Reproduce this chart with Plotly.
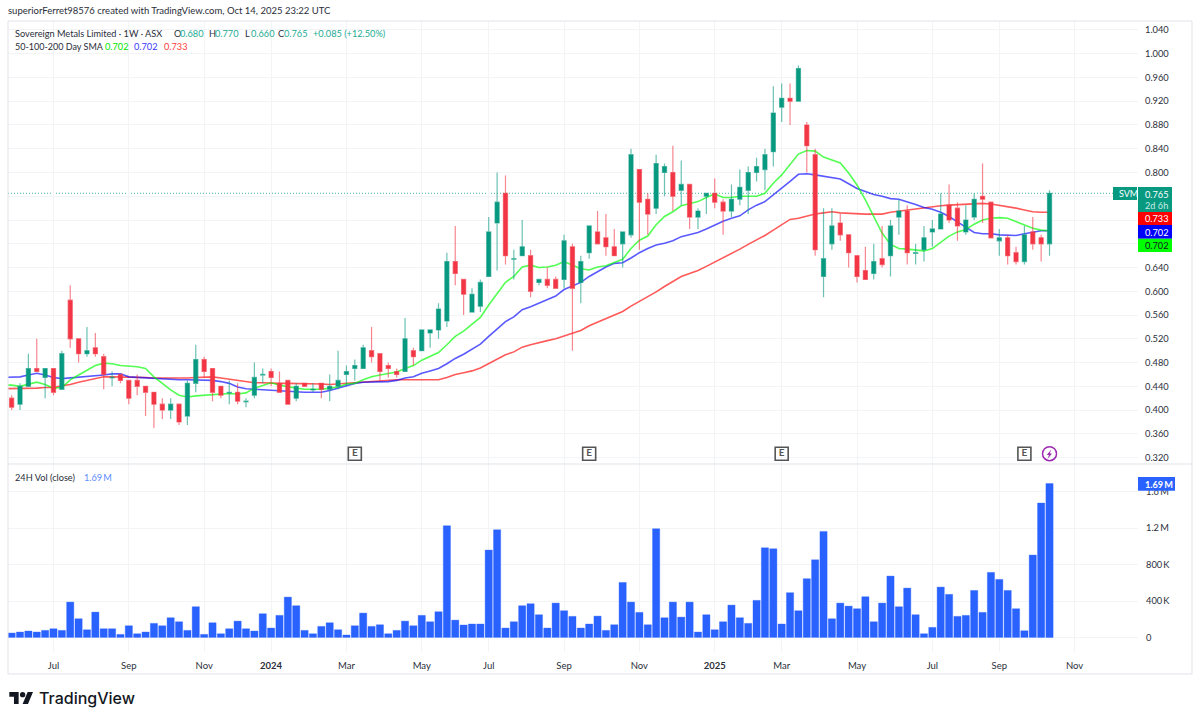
import pandas as pd
import plotly.graph_objects as go
from plotly.subplots import make_subplots

##### weekly bars, first one is the week of 29 May 2023
week_dates = pd.date_range("2023-05-29", periods=125, freq="7D")
sma_dates = pd.date_range("2023-05-22", periods=126, freq="7D")

opens = [.42, .41, .44, .47, .455, .47, .435, .585, .52, .495,
         .505, .49, .454, .46, .45, .45, .44, .43, .41, .40,
         .41, .39, .445, .485, .47, .44, .429, .43, .414, .425,
         .459, .465, .445, .45, .42, .445, .434, .445, .435, .44,
         .46, .47, .47, .50, .495, .475, .465, .465, .50, .50,
         .53, .535, .55, .65, .62, .565, .575, .625, .715, .765,
         .654, .66, .66, .615, .62, .62, .62, .675, .615, .665,
         .70, .69, .675, .68, .695, .805, .755, .74, .80, .80,
         .77, .78, .725, .76, .765, .75, .735, .755, .77, .80,
         .805, .835, .91, .925, .92, .88, .83, .625, .68, .715,
         .695, .66, .635, .63, .655, .66, .725, .735, .664, .67,
         .70, .705, .745, .74, .70, .725, .76, .75, .685, .69,
         .665, .65, .70, .69, .68]
highs = [.425, .445, .495, .52, .47, .47, .50, .61, .52, .54,
         .53, .495, .465, .46, .45, .46, .44, .43, .42, .42,
         .41, .45, .51, .49, .47, .44, .45, .445, .42, .48,
         .47, .47, .465, .45, .445, .445, .445, .445, .46, .50,
         .475, .485, .51, .54, .495, .48, .47, .555, .505, .535,
         .535, .58, .665, .71, .62, .605, .62, .725, .80, .795,
         .67, .72, .67, .62, .64, .625, .695, .68, .66, .71,
         .735, .73, .705, .70, .84, .805, .765, .83, .815, .845,
         .82, .78, .74, .765, .79, .755, .78, .805, .81, .825,
         .84, .945, .95, .95, .98, .885, .84, .74, .74, .73,
         .695, .66, .675, .68, .71, .72, .755, .745, .68, .71,
         .72, .765, .78, .75, .745, .765, .815, .75, .705, .695,
         .675, .71, .725, .695, .77]
lows = [.40, .40, .44, .465, .42, .425, .435, .505, .48, .49,
        .49, .435, .44, .445, .41, .425, .39, .37, .385, .385,
        .375, .375, .43, .455, .415, .42, .41, .41, .405, .42,
        .445, .44, .43, .41, .415, .44, .43, .42, .415, .435,
        .44, .45, .47, .48, .45, .455, .455, .465, .475, .50,
        .505, .52, .54, .61, .56, .565, .565, .625, .635, .645,
        .62, .66, .59, .61, .605, .605, .605, .50, .58, .655,
        .68, .66, .66, .64, .69, .67, .695, .73, .76, .735,
        .745, .705, .705, .73, .74, .695, .725, .745, .73, .785,
        .77, .81, .885, .88, .92, .80, .66, .59, .67, .685,
        .64, .615, .62, .62, .64, .625, .695, .645, .645, .65,
        .675, .705, .715, .685, .695, .72, .715, .69, .66, .645,
        .645, .645, .67, .65, .66]
closes = [.405, .44, .47, .465, .47, .43, .495, .52, .495, .50,
          .495, .46, .455, .45, .42, .44, .43, .41, .40, .41,
          .38, .445, .485, .465, .43, .425, .43, .415, .415, .455,
          .46, .455, .43, .41, .44, .44, .435, .435, .44, .45,
          .465, .475, .505, .49, .465, .47, .46, .52, .49, .535,
          .535, .57, .65, .63, .595, .595, .615, .70, .75, .66,
          .655, .675, .60, .62, .61, .605, .685, .605, .65, .71,
          .68, .675, .66, .70, .83, .75, .73, .815, .81, .76,
          .78, .725, .735, .765, .75, .735, .755, .775, .80, .81,
          .83, .90, .925, .92, .975, .845, .67, .655, .71, .695,
          .665, .625, .62, .65, .645, .71, .735, .665, .665, .69,
          .705, .73, .72, .71, .72, .755, .755, .69, .69, .66,
          .65, .695, .68, .68, .765]
volumes = [48, 59, 70, 59, 77, 95, 77, 388, 205, 84,
           278, 95, 95, 33, 128, 40, 59, 154, 128, 216,
           172, 77, 337, 33, 161, 40, 95, 179, 95, 70,
           260, 103, 242, 443, 348, 77, 40, 121, 161, 84,
           26, 128, 267, 121, 139, 40, 77, 179, 128, 242,
           172, 282, 1227, 190, 136, 147, 147, 960, 1183, 103,
           172, 348, 370, 249, 103, 377, 293, 231, 103, 147,
           234, 77, 139, 604, 388, 275, 139, 1194, 216, 388,
           223, 388, 59, 249, 84, 172, 355, 216, 154, 407,
           985, 974, 147, 491, 293, 645, 853, 1165, 205, 377,
           344, 315, 447, 172, 377, 674, 337, 542, 249, 40,
           110, 553, 473, 231, 242, 516, 275, 714, 637, 516,
           315, 73, 905, 1476, 1690]  # thousands

sma50 = [.442, .442, .440, .444, .447, .443, .437, .438, .451, .459, .467,
         .475, .479, .478, .475, .474, .473, .470, .456, .445, .434,
         .425, .422, .424, .425, .426, .427, .428, .427, .429, .437,
         .442, .446, .442, .439, .437, .435, .435, .435, .437, .439,
         .444, .445, .451, .456, .459, .461, .464, .470, .475, .484,
         .491, .497, .510, .524, .533, .544, .556, .577, .597, .615,
         .625, .641, .644, .640, .641, .644, .650, .644, .638, .636,
         .641, .643, .649, .654, .672, .686, .693, .712, .726, .734,
         .744, .748, .751, .758, .764, .758, .758, .760, .760, .760,
         .765, .782, .796, .813, .831, .837, .836, .826, .821, .816,
         .799, .779, .754, .726, .698, .679, .672, .671, .670, .668,
         .672, .683, .693, .700, .704, .713, .720, .723, .724, .723,
         .717, .712, .706, .703, .702]
sma100 = [.455, .455, .456, .459, .462, .459, .455, .453, .454, .455, .456,
          .457, .459, .461, .461, .456, .455, .455, .453, .452, .451,
          .451, .451, .451, .450, .450, .448, .445, .439, .436, .435,
          .434, .433, .432, .431, .430, .430, .430, .430, .433, .437,
          .441, .445, .447, .447, .447, .448, .450, .454, .456, .462,
          .466, .470, .478, .487, .494, .502, .511, .524, .537, .549,
          .557, .569, .574, .580, .585, .592, .603, .609, .615, .625,
          .633, .641, .647, .648, .656, .665, .672, .678, .681, .685,
          .692, .695, .699, .705, .712, .718, .723, .727, .737, .745,
          .751, .762, .773, .785, .797, .798, .796, .794, .791, .789,
          .781, .773, .768, .763, .760, .756, .755, .751, .746, .741,
          .738, .733, .726, .717, .708, .699, .697, .697, .695, .694,
          .694, .697, .699, .702, .702]
sma200 = [.436, .436, .436, .436, .437, .438, .438, .441, .443, .447, .450,
          .453, .456, .456, .456, .456, .455, .455, .454, .454, .453,
          .453, .454, .455, .456, .456, .454, .452, .449, .447, .446,
          .446, .445, .445, .445, .445, .444, .444, .444, .443, .444,
          .445, .446, .447, .449, .450, .450, .451, .451, .451, .451,
          .451, .451, .455, .460, .463, .466, .471, .478, .486, .493,
          .498, .506, .510, .514, .517, .520, .525, .529, .534, .542,
          .548, .555, .560, .566, .575, .583, .590, .599, .608, .616,
          .625, .630, .635, .642, .649, .656, .664, .671, .679, .686,
          .694, .703, .712, .721, .723, .727, .730, .732, .734, .732,
          .731, .731, .730, .730, .730, .733, .735, .737, .739, .741,
          .743, .744, .745, .746, .747, .748, .748, .747, .745, .743,
          .740, .737, .734, .733, .733]

earnings_dates = ["2024-03-11", "2024-09-23", "2025-03-03", "2025-09-22"]
earnings_level = [.3266, .3266, .3266, .3266]
split_dates = ["2025-10-13"]
split_level = [.3266]

price_ticks = [.32, .36, .40, .44, .48, .52, .56, .60, .64, .68, .72, .76, .80, .84, .88, .92, .96, 1.0, 1.04]
vol_ticks = [0, 400, 800, 1200, 1600]
vol_labels = ["0", "400\u2009K", "800\u2009K", "1.2\u2009M", "1.6\u2009M"]
month_ticks = ["2023-07-03", "2023-09-04", "2023-11-06", "2024-01-01", "2024-03-04", "2024-05-06", "2024-07-01",
               "2024-09-02", "2024-11-04", "2025-01-06", "2025-03-03", "2025-05-05", "2025-07-07", "2025-09-01",
               "2025-11-03"]
month_labels = ["Jul", "Sep", "Nov", "<b>2024</b>", "Mar", "May", "Jul", "Sep", "Nov", "<b>2025</b>", "Mar", "May",
                "Jul", "Sep", "Nov"]

UP = '#089981'
DOWN = '#F23645'
BLUE = '#2962FF'
TEXT = '#2a2e39'
GRID = '#F3F4F6'
BORDER = '#E0E3EB'
FONT = 'Lato'
W, H = 1200, 722


def px(x):
    return x / W


def py(y):
    return 1 - y / H


fig = make_subplots(rows=2, cols=1, shared_xaxes=True, vertical_spacing=0,
                    specs=[[{"secondary_y": True}], [{}]])

##### SMA lines go on the base axis so the candles cover them
for name, values, color in [('SMA 200', sma200, 'rgba(255,0,0,0.65)'),
                            ('SMA 100', sma100, 'rgba(0,0,255,0.65)'),
                            ('SMA 50', sma50, 'rgba(0,255,0,0.68)')]:
    fig.add_trace(go.Scatter(x=sma_dates, y=values, mode='lines', name=name,
                             line=dict(color=color, width=1.6), showlegend=False),
                  row=1, col=1, secondary_y=False)

fig.add_trace(go.Scatter(x=earnings_dates, y=earnings_level, mode='markers+text', text=["<b>E</b>"] * 4,
                         textposition='middle center', textfont=dict(family=FONT, size=10, color='#555555'),
                         marker=dict(symbol='square-open', size=13, color='#555555', line=dict(width=1.6)),
                         showlegend=False), row=1, col=1, secondary_y=False)
fig.add_trace(go.Scatter(x=split_dates, y=split_level, mode='markers',
                         marker=dict(symbol='circle-open', size=14, color='#9C27B0', line=dict(width=1.5)),
                         showlegend=False), row=1, col=1, secondary_y=False)

fig.add_trace(go.Candlestick(x=week_dates, open=opens, high=highs, low=lows, close=closes,
                             increasing=dict(line=dict(color='rgba(8,153,129,0.6)', width=1.2), fillcolor=UP),
                             decreasing=dict(line=dict(color='rgba(242,54,69,0.6)', width=1.2), fillcolor=DOWN),
                             whiskerwidth=0, showlegend=False),
              row=1, col=1, secondary_y=True)

fig.add_trace(go.Bar(x=week_dates, y=volumes,
                     marker=dict(color=BLUE, line=dict(color='rgba(41,98,255,0.45)', width=0.8)),
                     showlegend=False), row=2, col=1)

##### axes, all sized in pixels of the 1200x722 page
week_px = 8.37
anchor_day = pd.Timestamp("2025-09-01")
anchor_px = 999.3
x_start = anchor_day + pd.Timedelta(weeks=(8 - anchor_px) / week_px)
x_end = anchor_day + pd.Timedelta(weeks=(1138 - anchor_px) / week_px)
price_range = [.8 - (464 - 172.5) / 594, .8 + (172.5 - 21) / 594]
vol_range = [-(652 - 637.4) / 0.091, (637.4 - 464) / 0.091]

fig.update_xaxes(range=[x_start, x_end], domain=[px(8), px(1138)], tickmode='array', tickvals=month_ticks,
                 ticktext=month_labels, showgrid=True, gridcolor=GRID, gridwidth=1, zeroline=False,
                 showline=False, ticks='', tickfont=dict(family=FONT, size=9.5, color=TEXT),
                 ticklabelstandoff=6, rangeslider=dict(visible=False))
fig.update_yaxes(domain=[py(464), py(21)], range=price_range, side='right', tickmode='array', tickvals=price_ticks,
                 tickformat='.3f', showgrid=True, gridcolor=GRID, zeroline=False, showline=False, ticks='',
                 tickfont=dict(family=FONT, size=9.3, color=TEXT), ticklabelstandoff=6,
                 row=1, col=1, secondary_y=False)
fig.update_yaxes(range=price_range, showgrid=False, showticklabels=False, zeroline=False, showline=False,
                 row=1, col=1, secondary_y=True)
fig.update_yaxes(domain=[py(652), py(464)], range=vol_range, side='right', tickmode='array', tickvals=vol_ticks,
                 ticktext=vol_labels, showgrid=True, gridcolor=GRID, zeroline=False, showline=False, ticks='',
                 tickfont=dict(family=FONT, size=9.3, color=TEXT), ticklabelstandoff=7,
                 row=2, col=1)


def label(text, x, y, color=TEXT, size=9.2, weight='normal', family=FONT):
    fig.add_annotation(text=text, xref='paper', yref='paper', x=px(x), y=py(y),
                       xanchor='left', yanchor='middle', showarrow=False, borderpad=0,
                       font=dict(family=family, size=size, color=color, weight=weight))


def box(x0, y0, x1, y1, fill):
    fig.add_shape(type='rect', xref='paper', yref='paper', x0=px(x0), x1=px(x1), y0=py(y0), y1=py(y1),
                  fillcolor=fill, line=dict(width=0))


##### last price line
fig.add_shape(type='line', xref='x domain', yref='y', x0=0, x1=1, y0=closes[-1], y1=closes[-1], layer='below',
              line=dict(color='rgba(8,153,129,0.75)', width=1, dash='1px,2px'))

##### frame around the chart and the divider between the panes
fig.add_shape(type='rect', xref='paper', yref='paper', x0=px(8), x1=px(1192), y0=py(21), y1=py(674),
              line=dict(color=BORDER, width=1))
fig.add_shape(type='line', xref='paper', yref='paper', x0=px(8), x1=px(1192), y0=py(464), y1=py(464),
              line=dict(color=BORDER, width=1))

##### header texts
label("superiorFerret98576 created with TradingView.com, Oct 14, 2025 23:22 UTC", 7, 11, size=9.5)
label("Sovereign Metals Limited \u00b7 1W \u00b7 ASX", 14, 33)
for text, x in [("O", 172.7), ("H", 207.7), ("L", 243.5), ("C", 277)]:
    label(text, x, 33)
for text, x in [("0.680", 178.5), ("0.770", 214), ("0.660", 249.5), ("0.765", 283), ("+0.085 (+12.50%)", 311.7)]:
    label(text, x, 33, color='#22ab94')
label("50-100-200 Day SMA", 14, 46, size=9)
label("0.702", 104, 46, color='#00e600')
label("0.702", 133, 46, color='#3a3aff')
label("0.733", 162.5, 46, color='#ff3b3b')
label("24H Vol (close)", 14, 477)
label("1.69\u2009M", 83, 477, color='#5b8cff')

##### price tags on the right
box(1113, 187, 1137, 200, UP)
label("SVM", 1118, 193.5, color='white', size=9)
box(1138, 187, 1172, 212, UP)
label("0.765", 1144, 194, color='white')
label("2d 6h", 1144, 205, color='#c8ece6')
box(1138, 212, 1172, 225, '#FF0000')
label("0.733", 1144, 218.5, color='white')
box(1138, 225, 1172, 238.7, '#0000FF')
label("0.702", 1144, 232, color='white')
box(1138, 238.7, 1172, 252, '#00FF00')
label("0.702", 1144, 245.5, color='#131722')
box(1138, 477, 1175, 490.7, BLUE)
label("1.69\u2009M", 1144, 484, color='white', weight='bold')

##### lightning bolt inside the purple circle
bolt = [(1051.2, 449.6), (1046.8, 455), (1049, 455), (1047.6, 459), (1052, 453.6), (1049.8, 453.6)]
fig.add_shape(type='path', xref='paper', yref='paper', fillcolor='#9C27B0', line=dict(width=0),
              path='M ' + ' L '.join('%.5f %.5f' % (px(a), py(b)) for a, b in bolt) + ' Z')

##### TradingView logo, drawn from its 36x28 outline
logo_scale, logo_x, logo_y = 0.667, 9.3, 689.3


def logo_path(points):
    parts = ['%.5f %.5f' % (px(logo_x + a * logo_scale), py(logo_y + b * logo_scale)) for a, b in points]
    return 'M ' + ' L '.join(parts) + ' Z'


for outline in [[(14, 22), (7, 22), (7, 11), (0, 11), (0, 4), (14, 4)],
                [(28, 22), (20, 22), (27.5, 4), (35.5, 4)]]:
    fig.add_shape(type='path', xref='paper', yref='paper', path=logo_path(outline), fillcolor='#131722',
                  line=dict(width=0))
fig.add_shape(type='circle', xref='paper', yref='paper', x0=px(logo_x + 16 * logo_scale),
              x1=px(logo_x + 24 * logo_scale), y0=py(logo_y + 4 * logo_scale), y1=py(logo_y + 12 * logo_scale),
              fillcolor='#131722', line=dict(width=0))
label("TradingView", 38, 698, color='#131722', size=16, weight=500, family='Inter')

fig.update_layout(width=W, height=H, autosize=False, margin=dict(l=0, r=0, t=0, b=0),
                  paper_bgcolor='white', plot_bgcolor='white', bargap=0.14, showlegend=False,
                  font=dict(family=FONT, color=TEXT))

fig.write_html("out.html", config={'displayModeBar': False}, post_script="document.body.style.margin='0';")
